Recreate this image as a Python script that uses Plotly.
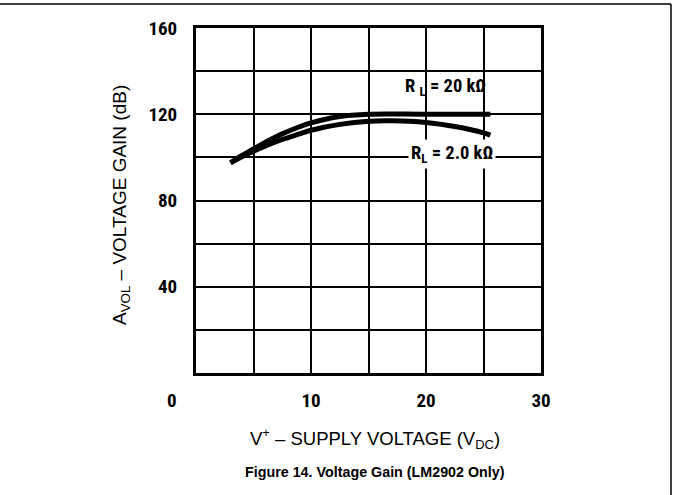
import plotly.graph_objects as go

# Data
v_20k = [3.0, 4.0, 5.0, 6.0, 7.5, 9.0, 10.0, 12.5, 15.0, 20.0, 25.6]
a_20k = [97.5, 100.9, 103.9, 106.9, 110.9, 114.2, 116.0, 119.0, 120.0, 120.0, 120.0]

v_2k = [3.0, 4.0, 5.0, 6.0, 7.5, 9.0, 10.0, 12.5, 15.0, 17.0, 20.0, 22.5, 25.0, 25.6]
a_2k = [97.5, 100.3, 102.9, 105.2, 108.3, 110.9, 112.6, 115.3, 116.8, 117.0, 116.2, 114.3, 111.4, 110.3]

x_major = [10, 20, 30]
x_minor = [5, 15, 25]
y_major = [40, 80, 120, 160]
y_minor = [20, 60, 100, 140]

W, H = 673, 495
ML, MR, MT, MB = 196, 132, 28, 122
PW, PH = W - ML - MR, H - MT - MB

COND = "Liberation Sans Narrow, Roboto Condensed, Liberation Sans, Arial"
REG = "Liberation Sans, Arial"

def px_x(px):
    return (px - ML) / PW

def px_y(py):
    return (H - MB - py) / PH

fig = go.Figure()
fig.add_trace(go.Scatter(x=v_20k, y=a_20k, mode="lines",
                         line=dict(color="black", width=5, shape="spline"),
                         name="RL = 20 kΩ", showlegend=False, hoverinfo="skip"))
fig.add_trace(go.Scatter(x=v_2k, y=a_2k, mode="lines",
                         line=dict(color="black", width=5, shape="spline"),
                         name="RL = 2.0 kΩ", showlegend=False, hoverinfo="skip"))

grid = dict(showgrid=True, gridcolor="black", gridwidth=1.5)
fig.update_layout(
    width=W, height=H,
    margin=dict(l=ML, r=MR, t=MT, b=MB),
    paper_bgcolor="white", plot_bgcolor="white",
    showlegend=False,
    font=dict(family=COND, color="black"),
    xaxis=dict(range=[0, 30], tickmode="array", tickvals=x_major,
               minor=dict(tickvals=x_minor, ticks="", **grid),
               showline=True, linecolor="black", linewidth=3, mirror=True,
               zeroline=False, ticks="", ticklabelstandoff=8,
               tickfont=dict(family=COND, size=19, weight="bold"), **grid),
    yaxis=dict(range=[0, 160], tickmode="array", tickvals=y_major,
               minor=dict(tickvals=y_minor, ticks="", **grid),
               showline=True, linecolor="black", linewidth=3, mirror=True,
               zeroline=False, ticks="", ticklabelstandoff=12,
               tickfont=dict(family=COND, size=19, weight="bold"), **grid),
)

annotations = [
    # origin label
    dict(x=0, y=px_y(400), xref="x", yref="paper", text="0", showarrow=False,
         xshift=-24, xanchor="center", yanchor="middle",
         font=dict(family=COND, size=19, weight="bold")),
    # curve labels
    dict(x=21.7, y=132.5, xref="x", yref="y", text="R <sub>L</sub> = 20 kΩ",
         showarrow=False, font=dict(family=COND, size=18.5, weight="bold")),
    dict(x=22.3, y=101.5, xref="x", yref="y", text="R<sub>L</sub> = 2.0 kΩ",
         showarrow=False, bgcolor="white", borderpad=2,
         font=dict(family=COND, size=18.5, weight="bold")),
    # axis titles
    dict(x=px_x(121), y=px_y(205), xref="paper", yref="paper",
         text="A<sub>VOL</sub> – VOLTAGE GAIN (dB)", textangle=-90,
         showarrow=False, xanchor="center", yanchor="middle",
         font=dict(family=REG, size=19)),
    dict(x=px_x(375), y=px_y(438), xref="paper", yref="paper",
         text="V<sup>+</sup> – SUPPLY VOLTAGE (V<sub>DC</sub>)",
         showarrow=False, xanchor="center", yanchor="middle",
         font=dict(family=REG, size=18.5)),
    # caption
    dict(x=px_x(375), y=px_y(472), xref="paper", yref="paper",
         text="<b>Figure 14. Voltage Gain (LM2902 Only)</b>",
         showarrow=False, xanchor="center", yanchor="middle",
         font=dict(family=REG, size=14.3)),
]
fig.update_layout(annotations=annotations)

# page frame: top and right border
fig.add_shape(type="line", xref="paper", yref="paper",
              x0=px_x(0), x1=px_x(671), y0=px_y(4), y1=px_y(4),
              line=dict(color="black", width=1.5))
fig.add_shape(type="line", xref="paper", yref="paper",
              x0=px_x(671), x1=px_x(671), y0=px_y(4), y1=px_y(495),
              line=dict(color="black", width=1.5))

fig.write_html("out.html", config={"displayModeBar": False},
               post_script="document.body.style.margin='0';document.body.style.padding='0';")
